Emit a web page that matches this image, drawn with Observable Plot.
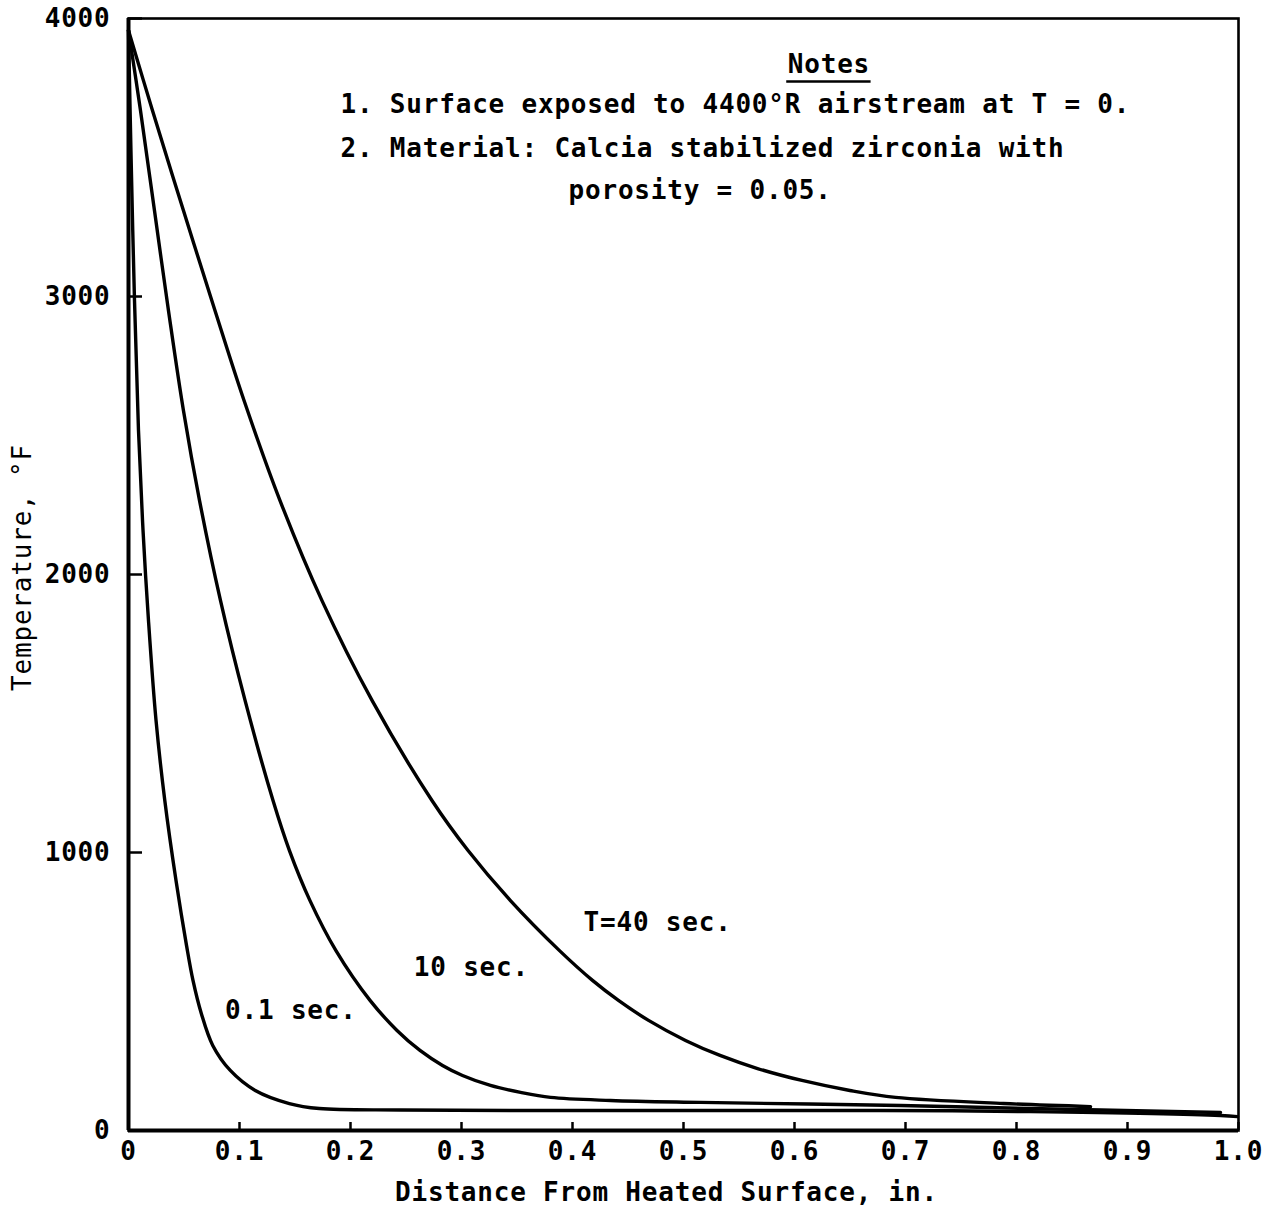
<!DOCTYPE html>
<html>
<head>
<meta charset="utf-8">
<script src="https://cdn.jsdelivr.net/npm/d3@7"></script>
<script src="https://cdn.jsdelivr.net/npm/@observablehq/plot@0.6"></script>
<style>
  html, body { margin: 0; padding: 0; background: #fff; }
  #chart svg { display: block; }
</style>
</head>
<body>
<div id="chart"></div>
<script>
// ---- Data ----
const seriesNames = ["0.1 sec.", "10 sec.", "T=40 sec."];

// 0.1 sec curve: distance (in.) and temperature (°F)
const dist01 = [0, 0.0022, 0.0054, 0.009, 0.0131, 0.018, 0.0248, 0.0327, 0.0428, 0.0523, 0.0581, 0.0656, 0.0759, 0.0917, 0.1142, 0.1449, 0.1719, 0.245, 0.3532, 0.5153, 0.6775, 0.8126, 0.9838, 0.9991];
const temp01 = [3957, 3525, 2986, 2518, 2158, 1835, 1475, 1187, 899, 665, 540, 421, 306, 216, 144, 97, 79, 74, 72, 72, 72, 68, 54, 50];

// 10 sec curve
const dist10 = [0, 0.0108, 0.0234, 0.036, 0.0495, 0.064, 0.0829, 0.105, 0.1302, 0.145, 0.1635, 0.1869, 0.2176, 0.2419, 0.2626, 0.2829, 0.3009, 0.3261, 0.3532, 0.3802, 0.4342, 0.5153, 0.6955, 0.8126, 0.9838];
const temp10 = [3957, 3669, 3309, 2950, 2590, 2266, 1906, 1547, 1187, 1007, 827, 647, 468, 360, 288, 234, 198, 162, 137, 119, 108, 101, 90, 79, 65];

// 40 sec curve
const dist40 = [0, 0.0216, 0.0495, 0.0779, 0.1041, 0.1365, 0.1743, 0.2194, 0.2734, 0.3059, 0.3441, 0.3883, 0.418, 0.4414, 0.4685, 0.5018, 0.5329, 0.5667, 0.6067, 0.6499, 0.691, 0.7883, 0.8667];
const temp40 = [3957, 3669, 3309, 2950, 2626, 2266, 1906, 1547, 1187, 1007, 827, 647, 540, 468, 396, 324, 270, 223, 180, 144, 119, 97, 86];

const xTicks = [0, 0.1, 0.2, 0.3, 0.4, 0.5, 0.6, 0.7, 0.8, 0.9, 1.0];
const xTickLabels = ["0", "0.1", "0.2", "0.3", "0.4", "0.5", "0.6", "0.7", "0.8", "0.9", "1.0"];
const yTicks = [0, 1000, 2000, 3000, 4000];
const yTickLabels = ["0", "1000", "2000", "3000", "4000"];

const xTitle = "Distance From Heated Surface, in.";
const yTitle = "Temperature, °F";

const noteTexts = [
  "1. Surface exposed to 4400°R airstream at T = 0.",
  "2. Material: Calcia stabilized zirconia with"
];
const noteX = [0.191, 0.191];
const noteY = [3691, 3532];
const noteCentered = ["porosity = 0.05."];
const noteCenteredX = [0.515];
const noteCenteredY = [3381];
const notesHeading = ["Notes"];
const notesHeadingX = [0.631];
const notesHeadingY = [3835];

const curveLabelX = [0.087, 0.257, 0.41];
const curveLabelY = [432, 586, 748];

// ---- Build tables ----
const rows = [];
[[dist01, temp01, seriesNames[0]], [dist10, temp10, seriesNames[1]], [dist40, temp40, seriesNames[2]]]
  .forEach(([ds, ts, name]) => ds.forEach((d, i) => rows.push({series: name, d, t: ts[i]})));

const curveLabels = seriesNames.map((s, i) => ({text: s, x: curveLabelX[i], y: curveLabelY[i]}));
const notes = noteTexts.map((s, i) => ({text: s, x: noteX[i], y: noteY[i]}));
const notes2 = noteCentered.map((s, i) => ({text: s, x: noteCenteredX[i], y: noteCenteredY[i]}));
const heading = notesHeading.map((s, i) => ({text: s, x: notesHeadingX[i], y: notesHeadingY[i]}));

const FONT = "'DejaVu Sans Mono', monospace";

const chart = Plot.plot({
  width: 1276,
  height: 1208,
  marginLeft: 128,
  marginRight: 38,
  marginTop: 18,
  marginBottom: 78,
  style: {fontFamily: FONT, fontSize: "26px", letterSpacing: "0.8px", color: "#000", background: "#fff"},
  x: {domain: [0, 1]},
  y: {domain: [0, 4000]},
  marks: [
    Plot.frame({stroke: "#000", strokeWidth: 2.6}),
    // inward ticks
    Plot.axisX(xTicks, {tickSize: -8, text: null, strokeWidth: 2.5, stroke: "#000"}),
    Plot.axisY(yTicks, {tickSize: -14, text: null, strokeWidth: 2.5, stroke: "#000"}),
    // tick labels
    Plot.axisX(xTicks, {tickSize: 0, tickPadding: 11, tickFormat: (d) => xTickLabels[xTicks.indexOf(d)], fontWeight: "bold", label: null}),
    Plot.axisY(yTicks, {tickSize: 0, tickPadding: 18, tickFormat: (d) => yTickLabels[yTicks.indexOf(d)], fontWeight: "bold", label: null}),
    // thick axis lines
    Plot.ruleX([0], {stroke: "#000", strokeWidth: 4}),
    Plot.ruleY([0], {stroke: "#000", strokeWidth: 4}),
    // curves
    Plot.line(rows, {x: "d", y: "t", z: "series", stroke: "#000", strokeWidth: 3.4, curve: "catmull-rom"}),
    // curve labels
    Plot.text(curveLabels, {x: "x", y: "y", text: "text", textAnchor: "start", fontWeight: "bold"}),
    // notes
    Plot.text(heading, {x: "x", y: "y", text: "text", textAnchor: "middle", fontWeight: "bold"}),
    Plot.ruleY(heading, {y: (d) => d.y - 62, x1: (d) => d.x - 0.038, x2: (d) => d.x + 0.038, stroke: "#000", strokeWidth: 2.5}),
    Plot.text(notes, {x: "x", y: "y", text: "text", textAnchor: "start", fontWeight: "bold"}),
    Plot.text(notes2, {x: "x", y: "y", text: "text", textAnchor: "middle", fontWeight: "bold"}),
    // axis titles
    Plot.text([xTitle], {frameAnchor: "bottom", text: (d) => d, dy: 70, dx: -17, fontWeight: "bold"}),
    Plot.text([yTitle], {frameAnchor: "left", textAnchor: "middle", text: (d) => d, rotate: -90, dx: -106, dy: -7, letterSpacing: "2.6px"})
  ]
});
document.getElementById("chart").appendChild(chart);
</script>
</body>
</html>
